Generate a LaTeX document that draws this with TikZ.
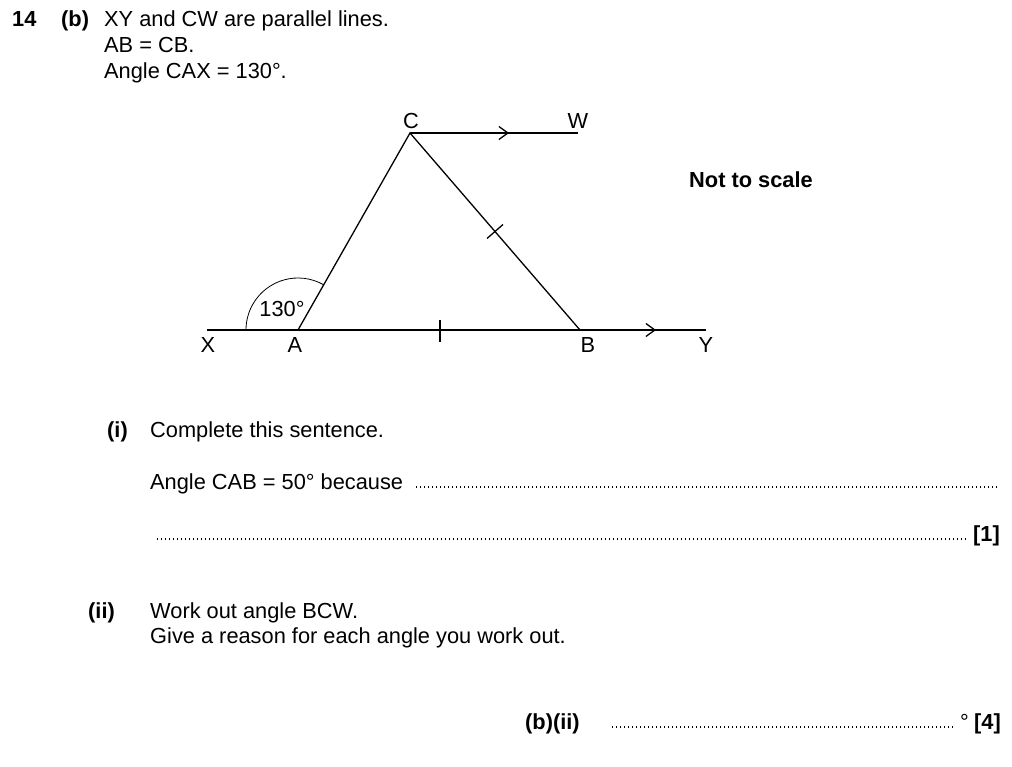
\documentclass[tikz,border=0pt]{standalone}
\usepackage{fontspec}
\setmainfont{Liberation Sans}
\usetikzlibrary{arrows.meta,calc}
\tikzset{
	t/.style={anchor=base west,inner sep=0pt,font=\fontsize{21.8}{25}\selectfont},
	tb/.style={t,font=\fontsize{21.8}{25}\selectfont\bfseries},
	lab/.style={inner sep=0pt,font=\fontsize{21.8}{25}\selectfont},
	ln/.style={line width=1.3pt},
	dots/.style={line width=1.4pt,dash pattern=on 1.4pt off 2.6pt},
	chev/.style={-{Straight Barb[length=9pt,width=13pt,line width=1.3pt]}},
}
\begin{document}
\begin{tikzpicture}[x=1pt,y=-1pt]
	\useasboundingbox (0,0) rectangle (1012,767);

	% question text
	\node [tb] (q) at (12,27) {14};
	\node [tb] (qb) at (61,27) {(b)};
	\node [t] (l1) at (104,27) {XY and CW are parallel lines.};
	\node [t] (l2) at (104,53) {AB = CB.};
	\node [t] (l3) at (104,79) {Angle CAX = 130°.};
	\node [tb] (nts) at (689,188) {Not to scale};

	% diagram
	\coordinate (A) at (298,330);
	\coordinate (B) at (580,330);
	\coordinate (C) at (410,133);
	\coordinate (W) at (578,133);
	\coordinate (X) at (207,330);
	\coordinate (Y) at (706,330);

	\draw [ln] (X) -- (Y);
	\draw [ln] (C) -- (W);
	\draw [ln] (A) -- (C) -- (B);
	\draw [ln,chev] (C) -- (509,133);
	\draw [ln,chev] (B) -- (656,330);

	\draw [ln] (440,320) -- (440,342);
	\draw [ln] ($(C)!0.5!(B)+(8,-7)$) -- ($(C)!0.5!(B)+(-8,7)$);
	\draw [line width=0.8pt] (A) ++(-60.4:52) arc[start angle=-60.4,end angle=-180,radius=52];

	\node [lab] (nC) at (411,121) {C};
	\node [lab] (nW) at (578,121) {W};
	\node [lab] (nX) at (208,345) {X};
	\node [lab] (nA) at (295,345) {A};
	\node [lab] (nB) at (588,345) {B};
	\node [lab] (nY) at (706,345) {Y};
	\node [lab] (n130) at (282,309) {130°};

	% part (i)
	\node [tb] (pi) at (107,437) {(i)};
	\node [t] (i1) at (150,437) {Complete this sentence.};
	\node [t] (i2) at (150,489) {Angle CAB = 50° because};
	\draw [dots] (416,487) -- (997,487);
	\draw [dots] (157,539) -- (966,539);
	\node [tb] (m1) at (973,541) {[1]};

	% part (ii)
	\node [tb] (pii) at (88,618) {(ii)};
	\node [t] (ii1) at (150,618) {Work out angle BCW.};
	\node [t] (ii2) at (150,643) {Give a reason for each angle you work out.};
	\node [tb] (bii) at (525,729) {(b)(ii)};
	\draw [dots] (612,727) -- (955,727);
	\node [t] (deg) at (960,729) {°};
	\node [tb] (m4) at (974,729) {[4]};
\end{tikzpicture}
\end{document}
